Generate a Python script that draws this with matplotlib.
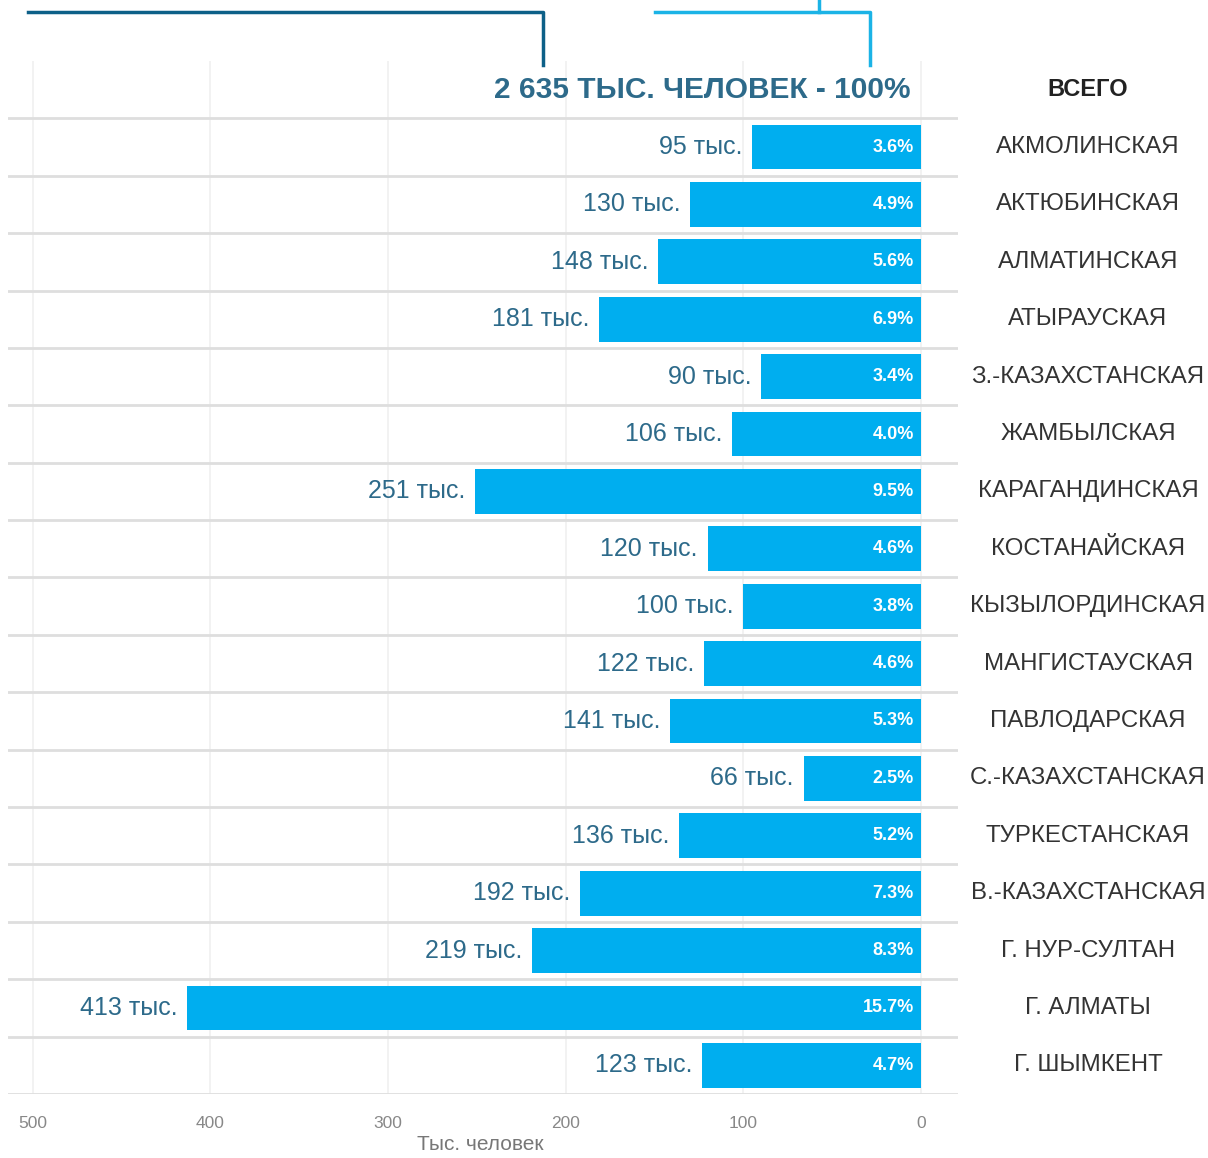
import matplotlib
matplotlib.use('Agg')
import matplotlib.pyplot as plt
from matplotlib.lines import Line2D
from matplotlib.transforms import blended_transform_factory

plt.rcParams['font.family'] = ['Liberation Sans', 'DejaVu Sans']

total_label = '2 635 ТЫС. ЧЕЛОВЕК - 100%'
regions = ['АКМОЛИНСКАЯ', 'АКТЮБИНСКАЯ', 'АЛМАТИНСКАЯ', 'АТЫРАУСКАЯ',
           'З.-КАЗАХСТАНСКАЯ', 'ЖАМБЫЛСКАЯ', 'КАРАГАНДИНСКАЯ', 'КОСТАНАЙСКАЯ',
           'КЫЗЫЛОРДИНСКАЯ', 'МАНГИСТАУСКАЯ', 'ПАВЛОДАРСКАЯ', 'С.-КАЗАХСТАНСКАЯ',
           'ТУРКЕСТАНСКАЯ', 'В.-КАЗАХСТАНСКАЯ', 'Г. НУР-СУЛТАН', 'Г. АЛМАТЫ',
           'Г. ШЫМКЕНТ']
values = [95, 130, 148, 181, 90, 106, 251, 120, 100, 122, 141, 66, 136, 192, 219, 413, 123]
shares = [3.6, 4.9, 5.6, 6.9, 3.4, 4.0, 9.5, 4.6, 3.8, 4.6, 5.3, 2.5, 5.2, 7.3, 8.3, 15.7, 4.7]
xticks = [0, 100, 200, 300, 400, 500]

bar_color = '#00AEEF'
label_color = '#2D6A8A'

fig = plt.figure(figsize=(12.08, 11.58), dpi=100)
ax = fig.add_axes([8 / 1208, 1 - 1094 / 1158, 950 / 1208, (1094 - 61) / 1158])

ypos = list(range(1, len(regions) + 1))
ax.barh(ypos, values, height=0.78, color=bar_color, zorder=3)

ax.set_xlim(514, -21)
ax.set_ylim(len(regions) + 0.5, -0.5)

for y, v, s in zip(ypos, values, shares):
    ax.annotate(f'{v} тыс.', xy=(v, y), xytext=(-7, 0), textcoords='offset points',
                ha='right', va='center', fontsize=18, color=label_color, zorder=4)
    ax.annotate(f'{s:.1f}%', xy=(0, y), xytext=(-5, 0), textcoords='offset points',
                ha='right', va='center', fontsize=13, color='white',
                fontweight='bold', zorder=4)

ax.annotate(total_label, xy=(0, 0), xytext=(-7, 0), textcoords='offset points',
            ha='right', va='center', fontsize=21.5, color=label_color, fontweight='bold')

trans = blended_transform_factory(fig.transFigure, ax.transData)
ax.text(1088 / 1208, 0, 'ВСЕГО', transform=trans, ha='center', va='center',
        fontsize=17, fontweight='bold', color='#222222')
for y, name in zip(ypos, regions):
    ax.text(1088 / 1208, y, name, transform=trans, ha='center', va='center',
            fontsize=17.3, color='#333333')

for k in range(len(regions) + 1):
    ax.axhline(k + 0.5, color='#DEDEDE', lw=2, zorder=1)

ax.set_xticks(xticks)
ax.set_xticklabels([str(t) for t in xticks], fontsize=12.5, color='#888888')
ax.set_yticks([])
ax.tick_params(axis='x', length=0, pad=16)
ax.xaxis.grid(True, color='#F0F0F0', lw=1.2, zorder=0)
ax.set_axisbelow(True)
for sp in ax.spines.values():
    sp.set_visible(False)
ax.set_xlabel('Тыс. человек', fontsize=15, color='#777777')
ax.xaxis.set_label_coords((480 - 8) / 950, -0.040)

# decorative bracket lines on top
def fx(px):
    return px / 1208

def fy(py):
    return 1 - py / 1158

fig.add_artist(Line2D([fx(28), fx(543), fx(543)], [fy(12), fy(12), fy(65)],
                      color='#0D6088', lw=2.5))
fig.add_artist(Line2D([fx(655), fx(870), fx(870)], [fy(12), fy(12), fy(65)],
                      color='#1BB3E6', lw=2.5))
fig.add_artist(Line2D([fx(819), fx(819)], [fy(0), fy(12)], color='#1BB3E6', lw=2.5))

fig.savefig('out.png', dpi=100)
plt.close(fig)
